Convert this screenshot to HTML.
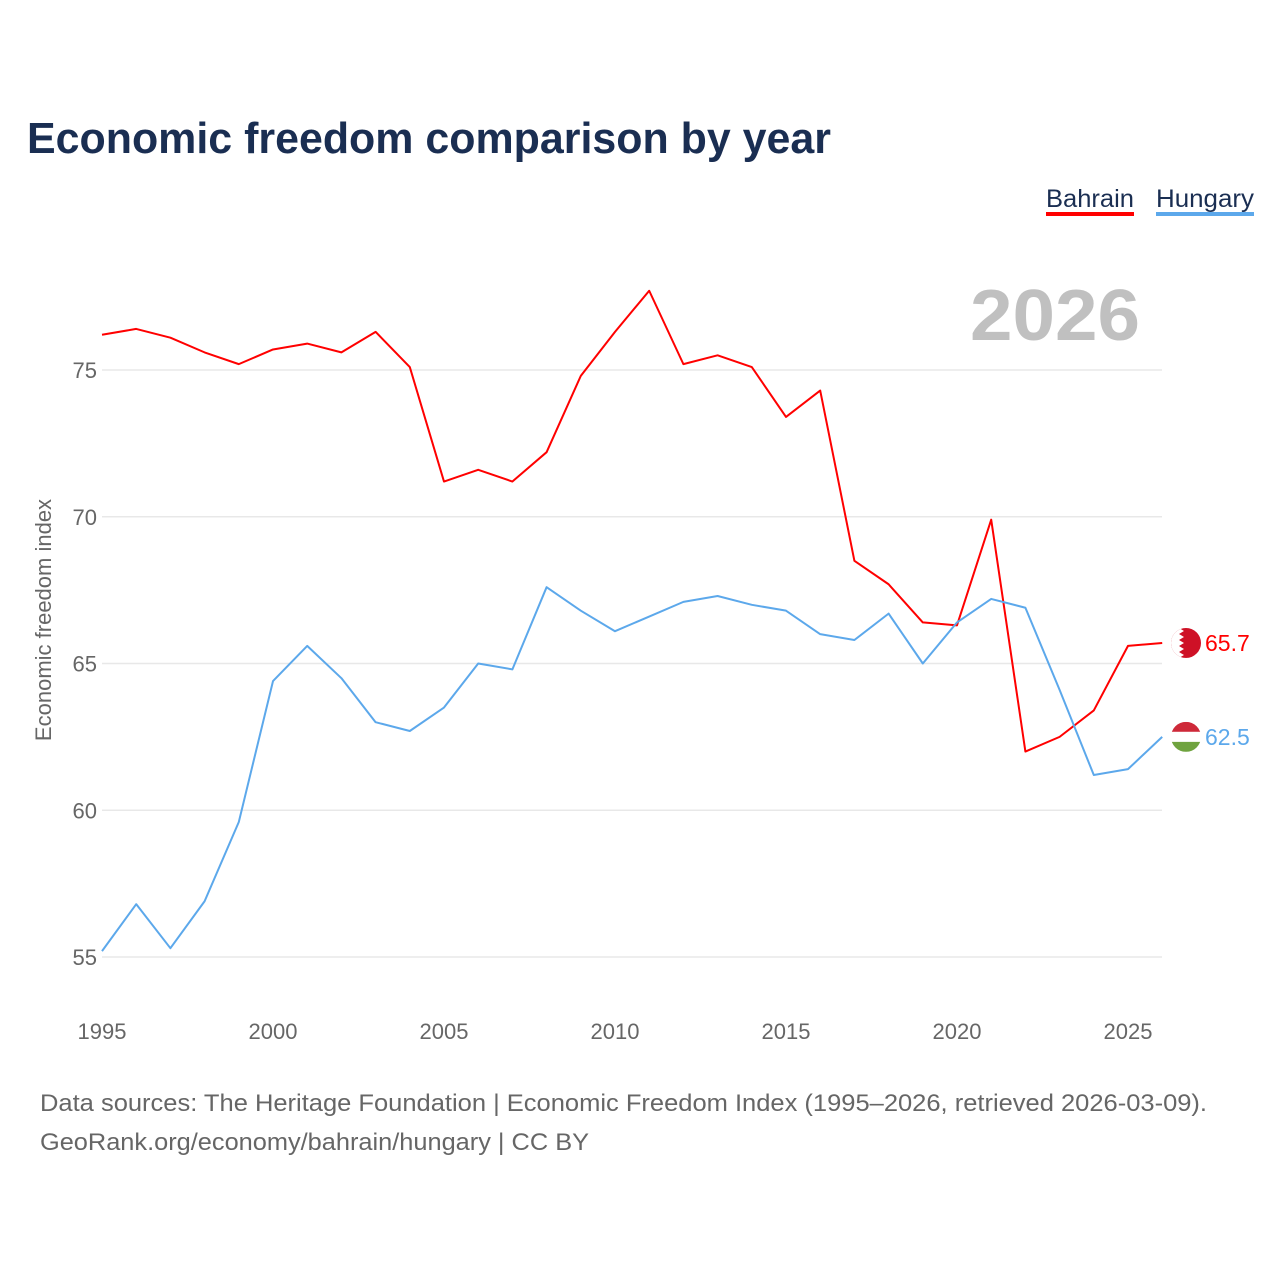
<!DOCTYPE html>
<html><head><meta charset="utf-8">
<style>
body{margin:0;background:#fff;font-family:"Liberation Sans",sans-serif;}
#wrap{position:relative;width:1280px;height:1280px;overflow:hidden;}
</style></head>
<body>
<div id="wrap">
<svg id="chart" width="1280" height="1280" xmlns="http://www.w3.org/2000/svg">
<text x="27" y="153" font-size="44" font-weight="bold" fill="#1a2e52" textLength="804" lengthAdjust="spacingAndGlyphs">Economic freedom comparison by year</text>
<g>
<text x="1046" y="207" font-size="25" fill="#1a2e52" textLength="88" lengthAdjust="spacingAndGlyphs">Bahrain</text>
<rect x="1046" y="212" width="88" height="4" fill="#ff0000"/></g>
<g>
<text x="1156" y="207" font-size="25" fill="#1a2e52" textLength="98" lengthAdjust="spacingAndGlyphs">Hungary</text>
<rect x="1156" y="212" width="98" height="4" fill="#5ca8eb"/></g>
<text x="970" y="340" font-size="72" font-weight="bold" fill="#c0c0c0" textLength="170" lengthAdjust="spacingAndGlyphs">2026</text>
<text transform="translate(51,620) rotate(-90)" font-size="22" fill="#666" text-anchor="middle">Economic freedom index</text>
<g id="grid"></g><g id="xt"></g><g id="lines"></g><g id="ends"></g>
<text x="40" y="1111" font-size="24" fill="#666" textLength="1167" lengthAdjust="spacingAndGlyphs">Data sources: The Heritage Foundation | Economic Freedom Index (1995–2026, retrieved 2026-03-09).</text>
<text x="40" y="1150" font-size="24" fill="#666" textLength="549" lengthAdjust="spacingAndGlyphs">GeoRank.org/economy/bahrain/hungary | CC BY</text>
</svg>
</div>
<script>
const years=[1995,1996,1997,1998,1999,2000,2001,2002,2003,2004,2005,2006,2007,2008,2009,2010,2011,2012,2013,2014,2015,2016,2017,2018,2019,2020,2021,2022,2023,2024,2025,2026];
const bahrain=[76.2,76.4,76.1,75.6,75.2,75.7,75.9,75.6,76.3,75.1,71.2,71.6,71.2,72.2,74.8,76.3,77.7,75.2,75.5,75.1,73.4,74.3,68.5,67.7,66.4,66.3,69.9,62.0,62.5,63.4,65.6,65.7];
const hungary=[55.2,56.8,55.3,56.9,59.6,64.4,65.6,64.5,63.0,62.7,63.5,65.0,64.8,67.6,66.8,66.1,66.6,67.1,67.3,67.0,66.8,66.0,65.8,66.7,65.0,66.4,67.2,66.9,64.1,61.2,61.4,62.5];
const yTicks=[55,60,65,70,75];
const xTicks=[1995,2000,2005,2010,2015,2020,2025];
const NS="http://www.w3.org/2000/svg";
const X=y=>102+(y-1995)*34.2;
const Y=v=>370+(75-v)*29.35;
function mk(tag,attrs,parent){const e=document.createElementNS(NS,tag);for(const k in attrs)e.setAttribute(k,attrs[k]);parent.appendChild(e);return e;}
const grid=document.getElementById('grid');
yTicks.forEach(t=>{
 const l=mk('line',{x1:102,x2:1162,y1:Y(t),y2:Y(t),stroke:'#e8e8e8','stroke-width':1.5},grid);
 
 
 const tx=mk('text',{x:97,y:Y(t)+8,'font-size':22,fill:'#666','text-anchor':'end'},grid);
 tx.textContent=t;
 
 
});
const xt=document.getElementById('xt');
xTicks.forEach(t=>{
 const tx=mk('text',{x:X(t),y:1039,'font-size':22,fill:'#666','text-anchor':'middle'},xt);
 tx.textContent=t;
 
 
});
const lines=document.getElementById('lines');
function series(vals,color,name){
 const p=mk('polyline',{points:vals.map((v,i)=>X(years[i])+','+Y(v)).join(' '),fill:'none',stroke:color,'stroke-width':2,'stroke-linejoin':'round'},lines);
 
 
}
series(bahrain,'#ff0000','bahrain');
series(hungary,'#5ca8eb','hungary');
const ends=document.getElementById('ends');
function endLabel(vals,color,name,flag){
 const v=vals[vals.length-1],cy=Y(v),cx=1186;
 const g=mk('g',{},ends);
 
 
 const cp=mk('clipPath',{id:'c'+name},g);
 mk('circle',{cx:cx,cy:cy,r:15},cp);
 const f=mk('g',{'clip-path':'url(#c'+name+')'},g);
 if(flag==='bh'){mk('rect',{x:cx-15,y:cy-15,width:30,height:30,fill:'#ce1126'},f);
  mk('polygon',{points:`${cx-15},${cy-15} ${cx-7},${cy-15} ${cx-2},${cy-12} ${cx-7},${cy-9} ${cx-2},${cy-6} ${cx-7},${cy-3} ${cx-2},${cy} ${cx-7},${cy+3} ${cx-2},${cy+6} ${cx-7},${cy+9} ${cx-2},${cy+12} ${cx-7},${cy+15} ${cx-15},${cy+15}`,fill:'#fff'},f);}
 else{mk('rect',{x:cx-15,y:cy-15,width:30,height:10,fill:'#ce2939'},f);mk('rect',{x:cx-15,y:cy-5,width:30,height:10,fill:'#fff'},f);mk('rect',{x:cx-15,y:cy+5,width:30,height:10,fill:'#6fa33f'},f);}
 const t=mk('text',{x:1205,y:cy+8,'font-size':23,fill:color},g);
 t.textContent=v.toFixed(1);
}
endLabel(bahrain,'#ff0000','bahrain','bh');
endLabel(hungary,'#5ca8eb','hungary','hu');
</script>
</body></html>
